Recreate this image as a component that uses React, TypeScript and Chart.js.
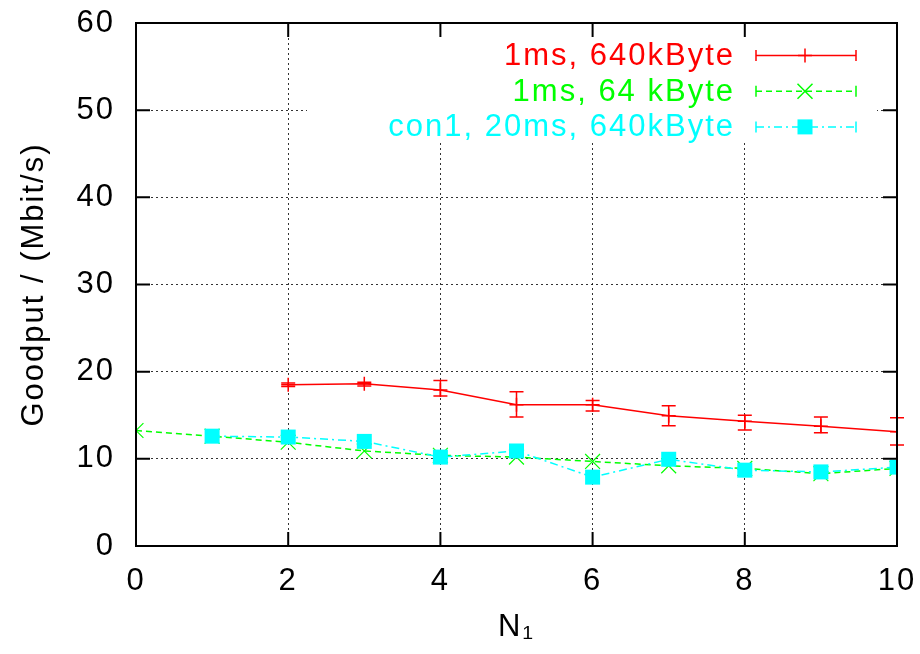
import React, { useEffect, useRef } from 'react';
import { Chart, registerables } from 'chart.js';
Chart.register(...registerables);

// ---- data ----
const xTickValues = [0, 2, 4, 6, 8, 10];
const yTickValues = [0, 10, 20, 30, 40, 50, 60];

const redX = [2, 3, 4, 5, 6, 7, 8, 9, 10];
const redY = [18.5, 18.6, 17.9, 16.2, 16.2, 14.95, 14.3, 13.75, 13.1];
const redLow = [18.3, 18.35, 17.2, 14.8, 15.5, 13.8, 13.3, 13.0, 11.6];
const redHigh = [18.7, 18.8, 19.0, 17.7, 16.7, 16.1, 15.0, 14.8, 14.7];

const greenX = [0, 1, 2, 3, 4, 5, 6, 7, 8, 9, 10];
const greenY = [13.25, 12.6, 11.9, 10.9, 10.4, 10.2, 9.7, 9.2, 8.9, 8.3, 8.9];

const cyanX = [1, 2, 3, 4, 5, 6, 7, 8, 9, 10];
const cyanY = [12.6, 12.5, 12.0, 10.2, 10.9, 7.9, 9.95, 8.7, 8.5, 9.05];

const seriesLabels = ['1ms, 640kByte', '1ms, 64 kByte', 'con1, 20ms, 640kByte'];
const seriesColors = ['#ff0000', '#00ff00', '#00ffff'];
const xTitle = 'N\u2081';
const yTitle = 'Goodput / (Mbit/s)';

const FAMILY = '"Liberation Sans", Arial, Helvetica, sans-serif';
const FSIZE = 31;
const LSPACE = '2px';

const zip = (xs: number[], ys: number[]) => xs.map((x, i) => ({ x, y: ys[i] }));

const framePlugin = {
  id: 'gnuframe',
  beforeLayout(chart: any) {
    chart.ctx.letterSpacing = LSPACE;
  },
  beforeDraw(chart: any) {
    const ctx = chart.ctx;
    ctx.letterSpacing = LSPACE;
    ctx.save();
    ctx.fillStyle = '#ffffff';
    ctx.fillRect(0, 0, chart.width, chart.height);
    ctx.restore();
  },
  afterDatasetsDraw(chart: any) {
    const ctx = chart.ctx;
    const xs = chart.scales.x;
    const ys = chart.scales.y;
    ctx.save();
    ctx.strokeStyle = seriesColors[0];
    ctx.lineWidth = 1.5;
    const cap = 7;
    redX.forEach((xv, i) => {
      const px = xs.getPixelForValue(xv);
      const lo = ys.getPixelForValue(redLow[i]);
      const hi = ys.getPixelForValue(redHigh[i]);
      ctx.beginPath();
      ctx.moveTo(px, lo);
      ctx.lineTo(px, hi);
      ctx.moveTo(px - cap, lo);
      ctx.lineTo(px + cap, lo);
      ctx.moveTo(px - cap, hi);
      ctx.lineTo(px + cap, hi);
      ctx.stroke();
    });
    ctx.restore();
  },
  afterDraw(chart: any) {
    const ctx = chart.ctx;
    const { left, right, top, bottom } = chart.chartArea;
    const xs = chart.scales.x;
    const ys = chart.scales.y;
    ctx.save();
    ctx.letterSpacing = LSPACE;
    // legend box (opaque)
    ctx.fillStyle = '#ffffff';
    ctx.fillRect(left + 171, top + 15, right - left - 171 - 20, 105);
    const textRight = right - 162;
    const sx0 = right - 141;
    const sx1 = right - 41;
    const sm = right - 92;
    const dashes = [[], [6, 4], [8, 4, 2, 4]];
    seriesLabels.forEach((lab, i) => {
      const ry = top + 32.5 + i * 35.7;
      ctx.fillStyle = seriesColors[i];
      ctx.font = `${FSIZE}px ${FAMILY}`;
      ctx.textAlign = 'right';
      ctx.textBaseline = 'middle';
      ctx.fillText(lab, textRight, ry + 1);
      ctx.strokeStyle = seriesColors[i];
      ctx.lineWidth = 1.5;
      ctx.setLineDash(dashes[i]);
      ctx.beginPath();
      ctx.moveTo(sx0, ry);
      ctx.lineTo(sx1, ry);
      ctx.stroke();
      ctx.setLineDash([]);
      ctx.beginPath();
      ctx.moveTo(sx0, ry - 5.5);
      ctx.lineTo(sx0, ry + 5.5);
      ctx.moveTo(sx1, ry - 5.5);
      ctx.lineTo(sx1, ry + 5.5);
      ctx.stroke();
      ctx.beginPath();
      if (i === 0) {
        ctx.moveTo(sm - 7, ry);
        ctx.lineTo(sm + 7, ry);
        ctx.moveTo(sm, ry - 7);
        ctx.lineTo(sm, ry + 7);
        ctx.stroke();
      } else if (i === 1) {
        ctx.moveTo(sm - 7.5, ry - 7.5);
        ctx.lineTo(sm + 7.5, ry + 7.5);
        ctx.moveTo(sm - 7.5, ry + 7.5);
        ctx.lineTo(sm + 7.5, ry - 7.5);
        ctx.stroke();
      } else {
        ctx.fillStyle = seriesColors[i];
        ctx.fillRect(sm - 7.5, ry - 7.5, 15, 15);
      }
    });
    // frame
    ctx.strokeStyle = '#000000';
    ctx.lineWidth = 2;
    ctx.setLineDash([]);
    ctx.strokeRect(left, top, right - left, bottom - top);
    // inward ticks on all four sides
    const tl = 14;
    ctx.beginPath();
    xTickValues.forEach((v) => {
      const px = xs.getPixelForValue(v);
      ctx.moveTo(px, bottom);
      ctx.lineTo(px, bottom - tl);
      ctx.moveTo(px, top);
      ctx.lineTo(px, top + tl);
    });
    yTickValues.forEach((v) => {
      const py = ys.getPixelForValue(v);
      ctx.moveTo(left, py);
      ctx.lineTo(left + tl, py);
      ctx.moveTo(right, py);
      ctx.lineTo(right - tl, py);
    });
    ctx.stroke();
    ctx.restore();
  },
};

export default function App() {
  const ref = useRef<HTMLCanvasElement | null>(null);
  useEffect(() => {
    document.body.style.margin = '0';
    const canvas = ref.current;
    if (!canvas) return;
    const tickFont = { family: FAMILY, size: FSIZE };
    const chart = new Chart(canvas, {
      type: 'line',
      data: {
        datasets: [
          {
            label: seriesLabels[0],
            data: zip(redX, redY),
            borderColor: seriesColors[0],
            backgroundColor: seriesColors[0],
            borderWidth: 1.5,
            pointStyle: 'cross',
            pointRadius: 7,
            pointBorderWidth: 1.5,
            pointBorderColor: seriesColors[0],
            order: 2,
          },
          {
            label: seriesLabels[1],
            data: zip(greenX, greenY),
            borderColor: seriesColors[1],
            backgroundColor: seriesColors[1],
            borderWidth: 1.5,
            borderDash: [6, 4],
            pointStyle: 'crossRot',
            pointRadius: 10.5,
            pointBorderWidth: 1.2,
            pointBorderColor: seriesColors[1],
            order: 1,
          },
          {
            label: seriesLabels[2],
            data: zip(cyanX, cyanY),
            borderColor: seriesColors[2],
            backgroundColor: seriesColors[2],
            borderWidth: 1.5,
            borderDash: [8, 4, 2, 4],
            pointStyle: 'rect',
            pointRadius: 10.6,
            pointBorderWidth: 0,
            pointBackgroundColor: seriesColors[2],
            order: 0,
          },
        ],
      },
      options: {
        responsive: false,
        animation: false,
        devicePixelRatio: 1,
        layout: { padding: { left: 0, top: 23, right: 23, bottom: 0 } },
        plugins: { legend: { display: false }, tooltip: { enabled: false } },
        elements: { line: { tension: 0, fill: false } },
        scales: {
          x: {
            type: 'linear',
            min: 0,
            max: 10,
            afterBuildTicks: (s: any) => {
              s.ticks = xTickValues.map((v) => ({ value: v }));
            },
            afterFit: (s: any) => {
              s.height = 108;
              s.paddingLeft = 0;
              s.paddingRight = 0;
            },
            grid: { color: 'rgba(0,0,0,0.8)', lineWidth: 1, drawTicks: false },
            border: { display: false, dash: [2, 3] },
            ticks: { color: '#000', font: tickFont, padding: 17, maxRotation: 0 },
            title: { display: true, text: xTitle, color: '#000', font: tickFont, padding: { top: 0, bottom: 8 } },
          },
          y: {
            type: 'linear',
            min: 0,
            max: 60,
            afterBuildTicks: (s: any) => {
              s.ticks = yTickValues.map((v) => ({ value: v }));
            },
            afterFit: (s: any) => {
              s.width = 136;
              s.paddingTop = 0;
              s.paddingBottom = 0;
            },
            grid: { color: 'rgba(0,0,0,0.8)', lineWidth: 1, drawTicks: false },
            border: { display: false, dash: [2, 3] },
            ticks: { color: '#000', font: tickFont, padding: 21 },
            title: { display: true, text: yTitle, color: '#000', font: tickFont, padding: { top: 16, bottom: 0 } },
          },
        },
      },
      plugins: [framePlugin],
    } as any);
    return () => chart.destroy();
  }, []);
  return (
    <div style={{ width: 920, height: 654 }}>
      <canvas ref={ref} width={920} height={654} style={{ display: 'block' }} />
    </div>
  );
}
